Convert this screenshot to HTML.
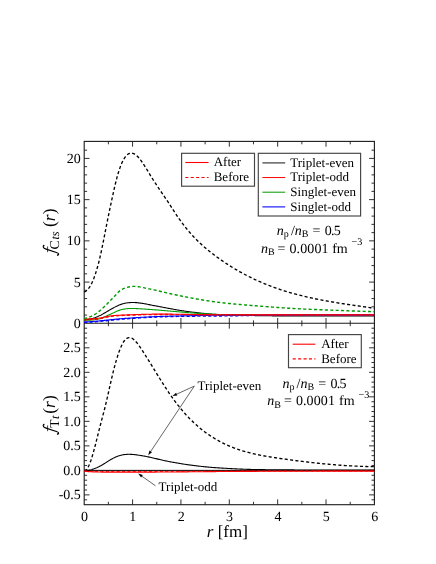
<!DOCTYPE html>
<html><head><meta charset="utf-8"><title>chart</title>
<style>html,body{margin:0;padding:0;background:#fff;}body{width:436px;height:564px;position:relative;overflow:hidden;font-family:"Liberation Serif",serif;}</style>
</head><body>
<svg width="436" height="564" viewBox="0 0 436 564" style="position:absolute;left:0;top:0;will-change:transform;opacity:0.999" text-rendering="geometricPrecision">
<rect width="436" height="564" fill="#fff"/>
<defs><clipPath id="c1"><rect x="83.60000000000001" y="141.4" width="291.4" height="181.9"/></clipPath><clipPath id="c2"><rect x="83.60000000000001" y="323.3" width="291.4" height="181.39999999999998"/></clipPath></defs>
<path d="M108.38,141.40L108.38,144.30M108.38,320.40L108.38,326.20M108.38,504.70L108.38,501.80M132.57,141.40L132.57,146.70M132.57,318.00L132.57,328.60M132.57,504.70L132.57,499.40M156.75,141.40L156.75,144.30M156.75,320.40L156.75,326.20M156.75,504.70L156.75,501.80M180.93,141.40L180.93,146.70M180.93,318.00L180.93,328.60M180.93,504.70L180.93,499.40M205.12,141.40L205.12,144.30M205.12,320.40L205.12,326.20M205.12,504.70L205.12,501.80M229.30,141.40L229.30,146.70M229.30,318.00L229.30,328.60M229.30,504.70L229.30,499.40M253.48,141.40L253.48,144.30M253.48,320.40L253.48,326.20M253.48,504.70L253.48,501.80M277.67,141.40L277.67,146.70M277.67,318.00L277.67,328.60M277.67,504.70L277.67,499.40M301.85,141.40L301.85,144.30M301.85,320.40L301.85,326.20M301.85,504.70L301.85,501.80M326.03,141.40L326.03,146.70M326.03,318.00L326.03,328.60M326.03,504.70L326.03,499.40M350.22,141.40L350.22,144.30M350.22,320.40L350.22,326.20M350.22,504.70L350.22,501.80M84.20,315.06L87.10,315.06M374.40,315.06L371.50,315.06M84.20,306.81L87.10,306.81M374.40,306.81L371.50,306.81M84.20,298.56L87.10,298.56M374.40,298.56L371.50,298.56M84.20,290.32L87.10,290.32M374.40,290.32L371.50,290.32M84.20,282.08L89.50,282.08M374.40,282.08L369.10,282.08M84.20,273.83L87.10,273.83M374.40,273.83L371.50,273.83M84.20,265.59L87.10,265.59M374.40,265.59L371.50,265.59M84.20,257.34L87.10,257.34M374.40,257.34L371.50,257.34M84.20,249.10L87.10,249.10M374.40,249.10L371.50,249.10M84.20,240.85L89.50,240.85M374.40,240.85L369.10,240.85M84.20,232.61L87.10,232.61M374.40,232.61L371.50,232.61M84.20,224.36L87.10,224.36M374.40,224.36L371.50,224.36M84.20,216.12L87.10,216.12M374.40,216.12L371.50,216.12M84.20,207.87L87.10,207.87M374.40,207.87L371.50,207.87M84.20,199.63L89.50,199.63M374.40,199.63L369.10,199.63M84.20,191.38L87.10,191.38M374.40,191.38L371.50,191.38M84.20,183.14L87.10,183.14M374.40,183.14L371.50,183.14M84.20,174.89L87.10,174.89M374.40,174.89L371.50,174.89M84.20,166.65L87.10,166.65M374.40,166.65L371.50,166.65M84.20,158.40L89.50,158.40M374.40,158.40L369.10,158.40M84.20,150.16L87.10,150.16M374.40,150.16L371.50,150.16M84.20,499.80L87.10,499.80M374.40,499.80L371.50,499.80M84.20,494.89L89.50,494.89M374.40,494.89L369.10,494.89M84.20,489.99L87.10,489.99M374.40,489.99L371.50,489.99M84.20,485.09L87.10,485.09M374.40,485.09L371.50,485.09M84.20,480.19L87.10,480.19M374.40,480.19L371.50,480.19M84.20,475.28L87.10,475.28M374.40,475.28L371.50,475.28M84.20,470.38L89.50,470.38M374.40,470.38L369.10,470.38M84.20,465.48L87.10,465.48M374.40,465.48L371.50,465.48M84.20,460.58L87.10,460.58M374.40,460.58L371.50,460.58M84.20,455.67L87.10,455.67M374.40,455.67L371.50,455.67M84.20,450.77L87.10,450.77M374.40,450.77L371.50,450.77M84.20,445.87L89.50,445.87M374.40,445.87L369.10,445.87M84.20,440.96L87.10,440.96M374.40,440.96L371.50,440.96M84.20,436.06L87.10,436.06M374.40,436.06L371.50,436.06M84.20,431.16L87.10,431.16M374.40,431.16L371.50,431.16M84.20,426.26L87.10,426.26M374.40,426.26L371.50,426.26M84.20,421.35L89.50,421.35M374.40,421.35L369.10,421.35M84.20,416.45L87.10,416.45M374.40,416.45L371.50,416.45M84.20,411.55L87.10,411.55M374.40,411.55L371.50,411.55M84.20,406.65L87.10,406.65M374.40,406.65L371.50,406.65M84.20,401.74L87.10,401.74M374.40,401.74L371.50,401.74M84.20,396.84L89.50,396.84M374.40,396.84L369.10,396.84M84.20,391.94L87.10,391.94M374.40,391.94L371.50,391.94M84.20,387.04L87.10,387.04M374.40,387.04L371.50,387.04M84.20,382.13L87.10,382.13M374.40,382.13L371.50,382.13M84.20,377.23L87.10,377.23M374.40,377.23L371.50,377.23M84.20,372.33L89.50,372.33M374.40,372.33L369.10,372.33M84.20,367.42L87.10,367.42M374.40,367.42L371.50,367.42M84.20,362.52L87.10,362.52M374.40,362.52L371.50,362.52M84.20,357.62L87.10,357.62M374.40,357.62L371.50,357.62M84.20,352.72L87.10,352.72M374.40,352.72L371.50,352.72M84.20,347.81L89.50,347.81M374.40,347.81L369.10,347.81M84.20,342.91L87.10,342.91M374.40,342.91L371.50,342.91M84.20,338.01L87.10,338.01M374.40,338.01L371.50,338.01M84.20,333.11L87.10,333.11M374.40,333.11L371.50,333.11M84.20,328.20L87.10,328.20M374.40,328.20L371.50,328.20" stroke="#1a1a1a" stroke-width="0.9" fill="none"/>
<rect x="84.2" y="141.4" width="290.20" height="363.30" fill="none" stroke="#1a1a1a" stroke-width="1.1"/>
<line x1="84.2" y1="323.3" x2="374.4" y2="323.3" stroke="#1a1a1a" stroke-width="1.1"/>
<path d="M84.20,319.60 L85.17,319.60 L86.14,319.57 L87.11,319.49 L88.08,319.38 L89.05,319.24 L90.02,319.06 L90.99,318.85 L91.96,318.61 L92.94,318.34 L93.91,318.03 L94.88,317.70 L95.85,317.34 L96.82,316.95 L97.79,316.54 L98.76,316.10 L99.73,315.63 L100.70,315.15 L101.67,314.64 L102.64,314.11 L103.61,313.57 L104.58,313.02 L105.55,312.45 L106.52,311.88 L107.49,311.30 L108.46,310.72 L109.43,310.15 L110.41,309.57 L111.38,309.00 L112.35,308.45 L113.32,307.91 L114.29,307.38 L115.26,306.87 L116.23,306.39 L117.20,305.93 L118.17,305.50 L119.14,305.09 L120.11,304.71 L121.08,304.36 L122.05,304.05 L123.02,303.76 L123.99,303.50 L124.96,303.28 L125.93,303.08 L126.91,302.92 L127.88,302.79 L128.85,302.68 L129.82,302.60 L130.79,302.54 L131.76,302.51 L132.73,302.50 L133.70,302.51 L134.67,302.54 L135.64,302.59 L136.61,302.65 L137.58,302.74 L138.55,302.84 L139.52,302.95 L140.49,303.08 L141.46,303.22 L142.43,303.37 L143.40,303.53 L144.38,303.70 L145.35,303.88 L146.32,304.07 L147.29,304.26 L148.26,304.45 L149.23,304.64 L150.20,304.84 L151.17,305.03 L152.14,305.23 L153.11,305.42 L154.08,305.60 L155.05,305.79 L156.02,305.97 L156.99,306.15 L157.96,306.33 L158.93,306.51 L159.90,306.70 L160.87,306.88 L161.85,307.06 L162.82,307.24 L163.79,307.43 L164.76,307.61 L165.73,307.80 L166.70,307.98 L167.67,308.17 L168.64,308.35 L169.61,308.54 L170.58,308.72 L171.55,308.90 L172.52,309.08 L173.49,309.26 L174.46,309.43 L175.43,309.61 L176.40,309.78 L177.37,309.95 L178.35,310.11 L179.32,310.28 L180.29,310.43 L181.26,310.59 L182.23,310.74 L183.20,310.89 L184.17,311.03 L185.14,311.17 L186.11,311.31 L187.08,311.44 L188.05,311.57 L189.02,311.70 L189.99,311.82 L190.96,311.95 L191.93,312.07 L192.90,312.19 L193.87,312.30 L194.84,312.42 L195.82,312.53 L196.79,312.64 L197.76,312.75 L198.73,312.86 L199.70,312.97 L200.67,313.07 L201.64,313.18 L202.61,313.28 L203.58,313.39 L204.55,313.49 L205.52,313.59 L206.49,313.68 L207.46,313.78 L208.43,313.87 L209.40,313.96 L210.37,314.04 L211.34,314.13 L212.32,314.20 L213.29,314.28 L214.26,314.35 L215.23,314.42 L216.20,314.48 L217.17,314.53 L218.14,314.59 L219.11,314.64 L220.08,314.68 L221.05,314.73 L222.02,314.77 L222.99,314.80 L223.96,314.84 L224.93,314.87 L225.90,314.91 L226.87,314.94 L227.84,314.97 L228.81,314.99 L229.79,315.02 L230.76,315.05 L231.73,315.08 L232.70,315.10 L233.67,315.13 L234.64,315.16 L235.61,315.18 L236.58,315.20 L237.55,315.23 L238.52,315.25 L239.49,315.28 L240.46,315.30 L241.43,315.32 L242.40,315.34 L243.37,315.36 L244.34,315.39 L245.31,315.41 L246.28,315.43 L247.26,315.45 L248.23,315.47 L249.20,315.48 L250.17,315.50 L251.14,315.52 L252.11,315.54 L253.08,315.56 L254.05,315.57 L255.02,315.59 L255.99,315.61 L256.96,315.62 L257.93,315.64 L258.90,315.65 L259.87,315.67 L260.84,315.68 L261.81,315.70 L262.78,315.71 L263.76,315.73 L264.73,315.74 L265.70,315.75 L266.67,315.76 L267.64,315.78 L268.61,315.79 L269.58,315.80 L270.55,315.81 L271.52,315.82 L272.49,315.83 L273.46,315.84 L274.43,315.85 L275.40,315.86 L276.37,315.87 L277.34,315.88 L278.31,315.89 L279.28,315.89 L280.25,315.90 L281.23,315.91 L282.20,315.92 L283.17,315.92 L284.14,315.93 L285.11,315.94 L286.08,315.94 L287.05,315.95 L288.02,315.95 L288.99,315.96 L289.96,315.96 L290.93,315.97 L291.90,315.97 L292.87,315.97 L293.84,315.98 L294.81,315.98 L295.78,315.98 L296.75,315.99 L297.73,315.99 L298.70,315.99 L299.67,315.99 L300.64,316.00 L301.61,316.00 L302.58,316.00 L303.55,316.00 L304.52,316.00 L305.49,316.00 L306.46,316.00 L307.43,316.00 L308.40,316.00 L309.37,316.00 L310.34,316.00 L311.31,316.00 L312.28,316.00 L313.25,316.00 L314.22,316.00 L315.20,316.00 L316.17,316.00 L317.14,316.00 L318.11,316.00 L319.08,316.00 L320.05,316.00 L321.02,316.00 L321.99,316.00 L322.96,316.00 L323.93,316.00 L324.90,315.99 L325.87,315.99 L326.84,315.99 L327.81,315.99 L328.78,315.99 L329.75,315.99 L330.72,315.99 L331.69,315.98 L332.67,315.98 L333.64,315.98 L334.61,315.98 L335.58,315.98 L336.55,315.98 L337.52,315.98 L338.49,315.97 L339.46,315.97 L340.43,315.97 L341.40,315.97 L342.37,315.97 L343.34,315.97 L344.31,315.97 L345.28,315.97 L346.25,315.96 L347.22,315.96 L348.19,315.96 L349.17,315.96 L350.14,315.96 L351.11,315.96 L352.08,315.96 L353.05,315.96 L354.02,315.96 L354.99,315.96 L355.96,315.96 L356.93,315.96 L357.90,315.96 L358.87,315.96 L359.84,315.96 L360.81,315.96 L361.78,315.97 L362.75,315.97 L363.72,315.97 L364.69,315.97 L365.66,315.97 L366.64,315.97 L367.61,315.98 L368.58,315.98 L369.55,315.98 L370.52,315.99 L371.49,315.99 L372.46,315.99 L373.43,316.00 L374.40,316.00" fill="none" stroke="#000" stroke-width="1.1" clip-path="url(#c1)"/>
<path d="M84.20,320.40 L85.17,320.35 L86.14,320.30 L87.11,320.26 L88.08,320.22 L89.05,320.17 L90.02,320.13 L90.99,320.07 L91.96,320.00 L92.94,319.92 L93.91,319.82 L94.88,319.70 L95.85,319.56 L96.82,319.39 L97.79,319.19 L98.76,318.95 L99.73,318.68 L100.70,318.37 L101.67,318.03 L102.64,317.65 L103.61,317.25 L104.58,316.84 L105.55,316.40 L106.52,315.97 L107.49,315.53 L108.46,315.09 L109.43,314.66 L110.41,314.23 L111.38,313.79 L112.35,313.34 L113.32,312.87 L114.29,312.40 L115.26,311.94 L116.23,311.50 L117.20,311.09 L118.17,310.71 L119.14,310.37 L120.11,310.05 L121.08,309.77 L122.05,309.51 L123.02,309.29 L123.99,309.10 L124.96,308.94 L125.93,308.81 L126.91,308.71 L127.88,308.63 L128.85,308.57 L129.82,308.53 L130.79,308.51 L131.76,308.50 L132.73,308.50 L133.70,308.52 L134.67,308.54 L135.64,308.57 L136.61,308.60 L137.58,308.65 L138.55,308.70 L139.52,308.75 L140.49,308.81 L141.46,308.87 L142.43,308.93 L143.40,308.99 L144.38,309.06 L145.35,309.12 L146.32,309.19 L147.29,309.26 L148.26,309.33 L149.23,309.40 L150.20,309.47 L151.17,309.54 L152.14,309.61 L153.11,309.68 L154.08,309.76 L155.05,309.83 L156.02,309.91 L156.99,309.98 L157.96,310.06 L158.93,310.13 L159.90,310.21 L160.87,310.29 L161.85,310.37 L162.82,310.45 L163.79,310.53 L164.76,310.61 L165.73,310.69 L166.70,310.78 L167.67,310.86 L168.64,310.95 L169.61,311.03 L170.58,311.11 L171.55,311.20 L172.52,311.28 L173.49,311.37 L174.46,311.45 L175.43,311.54 L176.40,311.63 L177.37,311.71 L178.35,311.80 L179.32,311.88 L180.29,311.96 L181.26,312.05 L182.23,312.13 L183.20,312.21 L184.17,312.30 L185.14,312.38 L186.11,312.46 L187.08,312.54 L188.05,312.62 L189.02,312.70 L189.99,312.77 L190.96,312.85 L191.93,312.93 L192.90,313.00 L193.87,313.07 L194.84,313.14 L195.82,313.21 L196.79,313.28 L197.76,313.35 L198.73,313.42 L199.70,313.48 L200.67,313.54 L201.64,313.60 L202.61,313.66 L203.58,313.72 L204.55,313.78 L205.52,313.83 L206.49,313.88 L207.46,313.94 L208.43,313.99 L209.40,314.04 L210.37,314.08 L211.34,314.13 L212.32,314.18 L213.29,314.22 L214.26,314.27 L215.23,314.31 L216.20,314.35 L217.17,314.39 L218.14,314.43 L219.11,314.47 L220.08,314.51 L221.05,314.55 L222.02,314.58 L222.99,314.62 L223.96,314.65 L224.93,314.68 L225.90,314.71 L226.87,314.74 L227.84,314.77 L228.81,314.80 L229.79,314.82 L230.76,314.84 L231.73,314.86 L232.70,314.88 L233.67,314.90 L234.64,314.91 L235.61,314.93 L236.58,314.94 L237.55,314.95 L238.52,314.96 L239.49,314.97 L240.46,314.98 L241.43,314.99 L242.40,315.00 L243.37,315.00 L244.34,315.01 L245.31,315.01 L246.28,315.01 L247.26,315.01 L248.23,315.02 L249.20,315.02 L250.17,315.02 L251.14,315.02 L252.11,315.02 L253.08,315.01 L254.05,315.01 L255.02,315.01 L255.99,315.01 L256.96,315.01 L257.93,315.00 L258.90,315.00 L259.87,315.00 L260.84,315.00 L261.81,315.00 L262.78,314.99 L263.76,314.99 L264.73,314.99 L265.70,314.99 L266.67,314.99 L267.64,314.98 L268.61,314.98 L269.58,314.98 L270.55,314.98 L271.52,314.98 L272.49,314.98 L273.46,314.97 L274.43,314.97 L275.40,314.97 L276.37,314.97 L277.34,314.97 L278.31,314.97 L279.28,314.97 L280.25,314.97 L281.23,314.96 L282.20,314.96 L283.17,314.96 L284.14,314.96 L285.11,314.96 L286.08,314.96 L287.05,314.96 L288.02,314.96 L288.99,314.96 L289.96,314.96 L290.93,314.96 L291.90,314.95 L292.87,314.95 L293.84,314.95 L294.81,314.95 L295.78,314.95 L296.75,314.95 L297.73,314.95 L298.70,314.95 L299.67,314.95 L300.64,314.95 L301.61,314.95 L302.58,314.95 L303.55,314.95 L304.52,314.95 L305.49,314.95 L306.46,314.95 L307.43,314.95 L308.40,314.95 L309.37,314.95 L310.34,314.95 L311.31,314.95 L312.28,314.95 L313.25,314.95 L314.22,314.94 L315.20,314.94 L316.17,314.94 L317.14,314.94 L318.11,314.94 L319.08,314.94 L320.05,314.94 L321.02,314.94 L321.99,314.94 L322.96,314.94 L323.93,314.94 L324.90,314.94 L325.87,314.94 L326.84,314.94 L327.81,314.94 L328.78,314.94 L329.75,314.94 L330.72,314.94 L331.69,314.94 L332.67,314.94 L333.64,314.94 L334.61,314.94 L335.58,314.94 L336.55,314.94 L337.52,314.94 L338.49,314.94 L339.46,314.94 L340.43,314.94 L341.40,314.94 L342.37,314.94 L343.34,314.94 L344.31,314.93 L345.28,314.93 L346.25,314.93 L347.22,314.93 L348.19,314.93 L349.17,314.93 L350.14,314.93 L351.11,314.93 L352.08,314.93 L353.05,314.93 L354.02,314.93 L354.99,314.93 L355.96,314.93 L356.93,314.92 L357.90,314.92 L358.87,314.92 L359.84,314.92 L360.81,314.92 L361.78,314.92 L362.75,314.92 L363.72,314.92 L364.69,314.92 L365.66,314.91 L366.64,314.91 L367.61,314.91 L368.58,314.91 L369.55,314.91 L370.52,314.91 L371.49,314.91 L372.46,314.90 L373.43,314.90 L374.40,314.90" fill="none" stroke="#009a00" stroke-width="1.1" clip-path="url(#c1)"/>
<path d="M84.20,322.40 L85.17,322.37 L86.14,322.33 L87.11,322.29 L88.08,322.24 L89.05,322.19 L90.02,322.14 L90.99,322.08 L91.96,322.02 L92.94,321.95 L93.91,321.88 L94.88,321.81 L95.85,321.73 L96.82,321.66 L97.79,321.57 L98.76,321.49 L99.73,321.40 L100.70,321.32 L101.67,321.22 L102.64,321.13 L103.61,321.04 L104.58,320.94 L105.55,320.85 L106.52,320.75 L107.49,320.65 L108.46,320.55 L109.43,320.45 L110.41,320.35 L111.38,320.25 L112.35,320.15 L113.32,320.05 L114.29,319.96 L115.26,319.86 L116.23,319.76 L117.20,319.67 L118.17,319.57 L119.14,319.48 L120.11,319.39 L121.08,319.30 L122.05,319.22 L123.02,319.13 L123.99,319.05 L124.96,318.97 L125.93,318.89 L126.91,318.81 L127.88,318.74 L128.85,318.66 L129.82,318.59 L130.79,318.52 L131.76,318.45 L132.73,318.38 L133.70,318.31 L134.67,318.24 L135.64,318.17 L136.61,318.11 L137.58,318.05 L138.55,317.98 L139.52,317.92 L140.49,317.86 L141.46,317.80 L142.43,317.75 L143.40,317.69 L144.38,317.63 L145.35,317.58 L146.32,317.53 L147.29,317.48 L148.26,317.43 L149.23,317.38 L150.20,317.34 L151.17,317.29 L152.14,317.25 L153.11,317.21 L154.08,317.16 L155.05,317.12 L156.02,317.08 L156.99,317.05 L157.96,317.01 L158.93,316.97 L159.90,316.94 L160.87,316.90 L161.85,316.87 L162.82,316.84 L163.79,316.81 L164.76,316.78 L165.73,316.75 L166.70,316.72 L167.67,316.69 L168.64,316.66 L169.61,316.64 L170.58,316.61 L171.55,316.59 L172.52,316.56 L173.49,316.54 L174.46,316.52 L175.43,316.50 L176.40,316.48 L177.37,316.46 L178.35,316.44 L179.32,316.42 L180.29,316.41 L181.26,316.39 L182.23,316.38 L183.20,316.36 L184.17,316.35 L185.14,316.34 L186.11,316.32 L187.08,316.31 L188.05,316.30 L189.02,316.29 L189.99,316.28 L190.96,316.27 L191.93,316.26 L192.90,316.26 L193.87,316.25 L194.84,316.24 L195.82,316.23 L196.79,316.22 L197.76,316.22 L198.73,316.21 L199.70,316.20 L200.67,316.20 L201.64,316.19 L202.61,316.18 L203.58,316.17 L204.55,316.17 L205.52,316.16 L206.49,316.15 L207.46,316.14 L208.43,316.14 L209.40,316.13 L210.37,316.12 L211.34,316.11 L212.32,316.10 L213.29,316.09 L214.26,316.08 L215.23,316.07 L216.20,316.06 L217.17,316.05 L218.14,316.04 L219.11,316.03 L220.08,316.02 L221.05,316.01 L222.02,316.00 L222.99,315.99 L223.96,315.97 L224.93,315.96 L225.90,315.95 L226.87,315.93 L227.84,315.92 L228.81,315.90 L229.79,315.89 L230.76,315.87 L231.73,315.85 L232.70,315.84 L233.67,315.82 L234.64,315.80 L235.61,315.78 L236.58,315.76 L237.55,315.74 L238.52,315.73 L239.49,315.71 L240.46,315.69 L241.43,315.67 L242.40,315.65 L243.37,315.63 L244.34,315.61 L245.31,315.59 L246.28,315.57 L247.26,315.55 L248.23,315.53 L249.20,315.52 L250.17,315.50 L251.14,315.48 L252.11,315.46 L253.08,315.44 L254.05,315.43 L255.02,315.41 L255.99,315.40 L256.96,315.38 L257.93,315.36 L258.90,315.35 L259.87,315.33 L260.84,315.32 L261.81,315.31 L262.78,315.29 L263.76,315.28 L264.73,315.27 L265.70,315.25 L266.67,315.24 L267.64,315.23 L268.61,315.22 L269.58,315.20 L270.55,315.19 L271.52,315.18 L272.49,315.17 L273.46,315.16 L274.43,315.15 L275.40,315.14 L276.37,315.13 L277.34,315.12 L278.31,315.11 L279.28,315.11 L280.25,315.10 L281.23,315.09 L282.20,315.08 L283.17,315.07 L284.14,315.07 L285.11,315.06 L286.08,315.05 L287.05,315.05 L288.02,315.04 L288.99,315.04 L289.96,315.03 L290.93,315.03 L291.90,315.02 L292.87,315.02 L293.84,315.01 L294.81,315.01 L295.78,315.00 L296.75,315.00 L297.73,314.99 L298.70,314.99 L299.67,314.99 L300.64,314.98 L301.61,314.98 L302.58,314.98 L303.55,314.97 L304.52,314.97 L305.49,314.97 L306.46,314.97 L307.43,314.97 L308.40,314.96 L309.37,314.96 L310.34,314.96 L311.31,314.96 L312.28,314.96 L313.25,314.96 L314.22,314.95 L315.20,314.95 L316.17,314.95 L317.14,314.95 L318.11,314.95 L319.08,314.95 L320.05,314.95 L321.02,314.95 L321.99,314.95 L322.96,314.95 L323.93,314.95 L324.90,314.95 L325.87,314.95 L326.84,314.95 L327.81,314.95 L328.78,314.95 L329.75,314.95 L330.72,314.95 L331.69,314.95 L332.67,314.95 L333.64,314.95 L334.61,314.95 L335.58,314.95 L336.55,314.95 L337.52,314.95 L338.49,314.95 L339.46,314.95 L340.43,314.95 L341.40,314.95 L342.37,314.95 L343.34,314.95 L344.31,314.95 L345.28,314.95 L346.25,314.95 L347.22,314.95 L348.19,314.95 L349.17,314.95 L350.14,314.95 L351.11,314.95 L352.08,314.95 L353.05,314.95 L354.02,314.95 L354.99,314.94 L355.96,314.94 L356.93,314.94 L357.90,314.94 L358.87,314.94 L359.84,314.94 L360.81,314.94 L361.78,314.94 L362.75,314.93 L363.72,314.93 L364.69,314.93 L365.66,314.93 L366.64,314.93 L367.61,314.92 L368.58,314.92 L369.55,314.92 L370.52,314.91 L371.49,314.91 L372.46,314.91 L373.43,314.90 L374.40,314.90" fill="none" stroke="#0000ff" stroke-width="1.3" stroke-dasharray="3.1 2.3" clip-path="url(#c1)"/>
<path d="M84.20,322.00 L85.17,321.96 L86.14,321.91 L87.11,321.86 L88.08,321.81 L89.05,321.75 L90.02,321.69 L90.99,321.62 L91.96,321.55 L92.94,321.47 L93.91,321.39 L94.88,321.31 L95.85,321.23 L96.82,321.14 L97.79,321.05 L98.76,320.96 L99.73,320.86 L100.70,320.76 L101.67,320.67 L102.64,320.57 L103.61,320.47 L104.58,320.36 L105.55,320.26 L106.52,320.16 L107.49,320.05 L108.46,319.95 L109.43,319.85 L110.41,319.74 L111.38,319.64 L112.35,319.54 L113.32,319.44 L114.29,319.34 L115.26,319.24 L116.23,319.15 L117.20,319.05 L118.17,318.96 L119.14,318.88 L120.11,318.79 L121.08,318.71 L122.05,318.63 L123.02,318.55 L123.99,318.48 L124.96,318.41 L125.93,318.34 L126.91,318.27 L127.88,318.20 L128.85,318.14 L129.82,318.07 L130.79,318.01 L131.76,317.94 L132.73,317.88 L133.70,317.81 L134.67,317.75 L135.64,317.68 L136.61,317.62 L137.58,317.56 L138.55,317.49 L139.52,317.43 L140.49,317.37 L141.46,317.31 L142.43,317.25 L143.40,317.19 L144.38,317.14 L145.35,317.08 L146.32,317.03 L147.29,316.98 L148.26,316.93 L149.23,316.88 L150.20,316.83 L151.17,316.78 L152.14,316.74 L153.11,316.70 L154.08,316.66 L155.05,316.62 L156.02,316.58 L156.99,316.54 L157.96,316.51 L158.93,316.47 L159.90,316.44 L160.87,316.40 L161.85,316.37 L162.82,316.34 L163.79,316.31 L164.76,316.28 L165.73,316.26 L166.70,316.23 L167.67,316.20 L168.64,316.18 L169.61,316.15 L170.58,316.13 L171.55,316.11 L172.52,316.08 L173.49,316.06 L174.46,316.04 L175.43,316.02 L176.40,315.99 L177.37,315.97 L178.35,315.95 L179.32,315.93 L180.29,315.91 L181.26,315.89 L182.23,315.87 L183.20,315.85 L184.17,315.82 L185.14,315.80 L186.11,315.78 L187.08,315.76 L188.05,315.74 L189.02,315.72 L189.99,315.70 L190.96,315.68 L191.93,315.66 L192.90,315.64 L193.87,315.62 L194.84,315.60 L195.82,315.58 L196.79,315.56 L197.76,315.54 L198.73,315.52 L199.70,315.51 L200.67,315.49 L201.64,315.47 L202.61,315.45 L203.58,315.44 L204.55,315.42 L205.52,315.40 L206.49,315.39 L207.46,315.37 L208.43,315.35 L209.40,315.34 L210.37,315.32 L211.34,315.31 L212.32,315.30 L213.29,315.28 L214.26,315.27 L215.23,315.25 L216.20,315.24 L217.17,315.23 L218.14,315.22 L219.11,315.20 L220.08,315.19 L221.05,315.18 L222.02,315.17 L222.99,315.16 L223.96,315.15 L224.93,315.14 L225.90,315.13 L226.87,315.12 L227.84,315.11 L228.81,315.10 L229.79,315.09 L230.76,315.09 L231.73,315.08 L232.70,315.07 L233.67,315.06 L234.64,315.06 L235.61,315.05 L236.58,315.04 L237.55,315.04 L238.52,315.03 L239.49,315.03 L240.46,315.02 L241.43,315.01 L242.40,315.01 L243.37,315.01 L244.34,315.00 L245.31,315.00 L246.28,314.99 L247.26,314.99 L248.23,314.98 L249.20,314.98 L250.17,314.98 L251.14,314.97 L252.11,314.97 L253.08,314.97 L254.05,314.97 L255.02,314.96 L255.99,314.96 L256.96,314.96 L257.93,314.95 L258.90,314.95 L259.87,314.95 L260.84,314.95 L261.81,314.95 L262.78,314.94 L263.76,314.94 L264.73,314.94 L265.70,314.94 L266.67,314.94 L267.64,314.93 L268.61,314.93 L269.58,314.93 L270.55,314.93 L271.52,314.93 L272.49,314.93 L273.46,314.92 L274.43,314.92 L275.40,314.92 L276.37,314.92 L277.34,314.92 L278.31,314.92 L279.28,314.92 L280.25,314.91 L281.23,314.91 L282.20,314.91 L283.17,314.91 L284.14,314.91 L285.11,314.91 L286.08,314.91 L287.05,314.91 L288.02,314.91 L288.99,314.91 L289.96,314.91 L290.93,314.90 L291.90,314.90 L292.87,314.90 L293.84,314.90 L294.81,314.90 L295.78,314.90 L296.75,314.90 L297.73,314.90 L298.70,314.90 L299.67,314.90 L300.64,314.90 L301.61,314.90 L302.58,314.90 L303.55,314.90 L304.52,314.90 L305.49,314.90 L306.46,314.90 L307.43,314.90 L308.40,314.90 L309.37,314.90 L310.34,314.90 L311.31,314.90 L312.28,314.90 L313.25,314.90 L314.22,314.90 L315.20,314.90 L316.17,314.90 L317.14,314.90 L318.11,314.90 L319.08,314.90 L320.05,314.90 L321.02,314.90 L321.99,314.90 L322.96,314.90 L323.93,314.90 L324.90,314.90 L325.87,314.90 L326.84,314.90 L327.81,314.90 L328.78,314.90 L329.75,314.90 L330.72,314.90 L331.69,314.90 L332.67,314.90 L333.64,314.90 L334.61,314.90 L335.58,314.90 L336.55,314.90 L337.52,314.90 L338.49,314.90 L339.46,314.90 L340.43,314.90 L341.40,314.90 L342.37,314.90 L343.34,314.90 L344.31,314.90 L345.28,314.90 L346.25,314.90 L347.22,314.90 L348.19,314.90 L349.17,314.90 L350.14,314.90 L351.11,314.90 L352.08,314.90 L353.05,314.90 L354.02,314.90 L354.99,314.90 L355.96,314.90 L356.93,314.90 L357.90,314.90 L358.87,314.90 L359.84,314.90 L360.81,314.90 L361.78,314.90 L362.75,314.90 L363.72,314.90 L364.69,314.90 L365.66,314.90 L366.64,314.90 L367.61,314.90 L368.58,314.90 L369.55,314.90 L370.52,314.90 L371.49,314.90 L372.46,314.90 L373.43,314.90 L374.40,314.90" fill="none" stroke="#0000ff" stroke-width="1.1" clip-path="url(#c1)"/>
<path d="M84.20,319.90 L85.17,319.87 L86.14,319.83 L87.11,319.80 L88.08,319.77 L89.05,319.74 L90.02,319.70 L90.99,319.65 L91.96,319.60 L92.94,319.54 L93.91,319.47 L94.88,319.39 L95.85,319.29 L96.82,319.18 L97.79,319.06 L98.76,318.91 L99.73,318.75 L100.70,318.56 L101.67,318.36 L102.64,318.14 L103.61,317.92 L104.58,317.69 L105.55,317.45 L106.52,317.23 L107.49,317.00 L108.46,316.79 L109.43,316.60 L110.41,316.43 L111.38,316.28 L112.35,316.15 L113.32,316.04 L114.29,315.95 L115.26,315.87 L116.23,315.80 L117.20,315.74 L118.17,315.69 L119.14,315.64 L120.11,315.59 L121.08,315.55 L122.05,315.51 L123.02,315.47 L123.99,315.43 L124.96,315.39 L125.93,315.35 L126.91,315.31 L127.88,315.27 L128.85,315.23 L129.82,315.20 L130.79,315.16 L131.76,315.12 L132.73,315.09 L133.70,315.05 L134.67,315.02 L135.64,314.99 L136.61,314.95 L137.58,314.92 L138.55,314.89 L139.52,314.86 L140.49,314.83 L141.46,314.80 L142.43,314.77 L143.40,314.75 L144.38,314.72 L145.35,314.70 L146.32,314.67 L147.29,314.65 L148.26,314.63 L149.23,314.61 L150.20,314.60 L151.17,314.58 L152.14,314.57 L153.11,314.55 L154.08,314.54 L155.05,314.53 L156.02,314.53 L156.99,314.52 L157.96,314.51 L158.93,314.51 L159.90,314.50 L160.87,314.50 L161.85,314.50 L162.82,314.50 L163.79,314.50 L164.76,314.50 L165.73,314.50 L166.70,314.50 L167.67,314.50 L168.64,314.51 L169.61,314.51 L170.58,314.52 L171.55,314.52 L172.52,314.53 L173.49,314.54 L174.46,314.54 L175.43,314.55 L176.40,314.56 L177.37,314.57 L178.35,314.58 L179.32,314.59 L180.29,314.60 L181.26,314.61 L182.23,314.62 L183.20,314.63 L184.17,314.64 L185.14,314.65 L186.11,314.66 L187.08,314.67 L188.05,314.68 L189.02,314.69 L189.99,314.70 L190.96,314.71 L191.93,314.72 L192.90,314.73 L193.87,314.74 L194.84,314.75 L195.82,314.76 L196.79,314.77 L197.76,314.78 L198.73,314.79 L199.70,314.80 L200.67,314.81 L201.64,314.81 L202.61,314.82 L203.58,314.83 L204.55,314.83 L205.52,314.84 L206.49,314.84 L207.46,314.85 L208.43,314.85 L209.40,314.86 L210.37,314.86 L211.34,314.87 L212.32,314.87 L213.29,314.87 L214.26,314.88 L215.23,314.88 L216.20,314.88 L217.17,314.88 L218.14,314.89 L219.11,314.89 L220.08,314.89 L221.05,314.89 L222.02,314.89 L222.99,314.89 L223.96,314.90 L224.93,314.90 L225.90,314.90 L226.87,314.90 L227.84,314.90 L228.81,314.90 L229.79,314.90 L230.76,314.90 L231.73,314.90 L232.70,314.90 L233.67,314.90 L234.64,314.90 L235.61,314.90 L236.58,314.91 L237.55,314.91 L238.52,314.91 L239.49,314.91 L240.46,314.91 L241.43,314.91 L242.40,314.91 L243.37,314.91 L244.34,314.91 L245.31,314.91 L246.28,314.91 L247.26,314.91 L248.23,314.91 L249.20,314.91 L250.17,314.91 L251.14,314.91 L252.11,314.91 L253.08,314.91 L254.05,314.91 L255.02,314.91 L255.99,314.91 L256.96,314.91 L257.93,314.91 L258.90,314.91 L259.87,314.91 L260.84,314.91 L261.81,314.91 L262.78,314.91 L263.76,314.91 L264.73,314.91 L265.70,314.91 L266.67,314.91 L267.64,314.91 L268.61,314.91 L269.58,314.91 L270.55,314.91 L271.52,314.91 L272.49,314.91 L273.46,314.91 L274.43,314.91 L275.40,314.91 L276.37,314.91 L277.34,314.91 L278.31,314.91 L279.28,314.91 L280.25,314.91 L281.23,314.91 L282.20,314.91 L283.17,314.91 L284.14,314.91 L285.11,314.91 L286.08,314.91 L287.05,314.91 L288.02,314.90 L288.99,314.90 L289.96,314.90 L290.93,314.90 L291.90,314.90 L292.87,314.90 L293.84,314.90 L294.81,314.90 L295.78,314.90 L296.75,314.90 L297.73,314.90 L298.70,314.90 L299.67,314.90 L300.64,314.90 L301.61,314.90 L302.58,314.90 L303.55,314.90 L304.52,314.90 L305.49,314.90 L306.46,314.90 L307.43,314.90 L308.40,314.90 L309.37,314.90 L310.34,314.90 L311.31,314.90 L312.28,314.89 L313.25,314.89 L314.22,314.89 L315.20,314.89 L316.17,314.89 L317.14,314.89 L318.11,314.89 L319.08,314.89 L320.05,314.89 L321.02,314.89 L321.99,314.89 L322.96,314.89 L323.93,314.89 L324.90,314.89 L325.87,314.89 L326.84,314.89 L327.81,314.89 L328.78,314.89 L329.75,314.89 L330.72,314.89 L331.69,314.89 L332.67,314.89 L333.64,314.89 L334.61,314.89 L335.58,314.89 L336.55,314.89 L337.52,314.89 L338.49,314.89 L339.46,314.89 L340.43,314.89 L341.40,314.89 L342.37,314.89 L343.34,314.89 L344.31,314.89 L345.28,314.89 L346.25,314.89 L347.22,314.89 L348.19,314.89 L349.17,314.89 L350.14,314.89 L351.11,314.89 L352.08,314.89 L353.05,314.89 L354.02,314.89 L354.99,314.89 L355.96,314.89 L356.93,314.89 L357.90,314.89 L358.87,314.89 L359.84,314.89 L360.81,314.89 L361.78,314.89 L362.75,314.89 L363.72,314.89 L364.69,314.89 L365.66,314.89 L366.64,314.89 L367.61,314.89 L368.58,314.90 L369.55,314.90 L370.52,314.90 L371.49,314.90 L372.46,314.90 L373.43,314.90 L374.40,314.90" fill="none" stroke="#ff0000" stroke-width="1.3" stroke-dasharray="3.1 2.3" clip-path="url(#c1)"/>
<path d="M84.20,319.00 L85.17,318.98 L86.14,318.97 L87.11,318.95 L88.08,318.93 L89.05,318.90 L90.02,318.88 L90.99,318.84 L91.96,318.80 L92.94,318.75 L93.91,318.69 L94.88,318.62 L95.85,318.54 L96.82,318.44 L97.79,318.32 L98.76,318.19 L99.73,318.04 L100.70,317.88 L101.67,317.69 L102.64,317.49 L103.61,317.29 L104.58,317.08 L105.55,316.87 L106.52,316.66 L107.49,316.46 L108.46,316.27 L109.43,316.09 L110.41,315.94 L111.38,315.80 L112.35,315.69 L113.32,315.59 L114.29,315.51 L115.26,315.44 L116.23,315.38 L117.20,315.32 L118.17,315.28 L119.14,315.24 L120.11,315.20 L121.08,315.16 L122.05,315.11 L123.02,315.07 L123.99,315.03 L124.96,314.99 L125.93,314.95 L126.91,314.91 L127.88,314.88 L128.85,314.84 L129.82,314.80 L130.79,314.76 L131.76,314.72 L132.73,314.69 L133.70,314.65 L134.67,314.62 L135.64,314.58 L136.61,314.55 L137.58,314.52 L138.55,314.49 L139.52,314.46 L140.49,314.43 L141.46,314.40 L142.43,314.37 L143.40,314.35 L144.38,314.32 L145.35,314.30 L146.32,314.27 L147.29,314.25 L148.26,314.23 L149.23,314.21 L150.20,314.20 L151.17,314.18 L152.14,314.17 L153.11,314.15 L154.08,314.14 L155.05,314.13 L156.02,314.12 L156.99,314.12 L157.96,314.11 L158.93,314.10 L159.90,314.10 L160.87,314.10 L161.85,314.10 L162.82,314.10 L163.79,314.10 L164.76,314.11 L165.73,314.11 L166.70,314.12 L167.67,314.13 L168.64,314.14 L169.61,314.14 L170.58,314.16 L171.55,314.17 L172.52,314.18 L173.49,314.19 L174.46,314.20 L175.43,314.22 L176.40,314.23 L177.37,314.25 L178.35,314.26 L179.32,314.28 L180.29,314.29 L181.26,314.31 L182.23,314.33 L183.20,314.34 L184.17,314.36 L185.14,314.37 L186.11,314.39 L187.08,314.41 L188.05,314.42 L189.02,314.44 L189.99,314.45 L190.96,314.47 L191.93,314.48 L192.90,314.50 L193.87,314.51 L194.84,314.53 L195.82,314.54 L196.79,314.56 L197.76,314.57 L198.73,314.58 L199.70,314.60 L200.67,314.61 L201.64,314.62 L202.61,314.63 L203.58,314.64 L204.55,314.65 L205.52,314.66 L206.49,314.67 L207.46,314.68 L208.43,314.69 L209.40,314.70 L210.37,314.70 L211.34,314.71 L212.32,314.72 L213.29,314.72 L214.26,314.73 L215.23,314.74 L216.20,314.74 L217.17,314.75 L218.14,314.75 L219.11,314.76 L220.08,314.76 L221.05,314.77 L222.02,314.77 L222.99,314.78 L223.96,314.78 L224.93,314.78 L225.90,314.79 L226.87,314.79 L227.84,314.80 L228.81,314.80 L229.79,314.80 L230.76,314.81 L231.73,314.81 L232.70,314.81 L233.67,314.82 L234.64,314.82 L235.61,314.82 L236.58,314.82 L237.55,314.83 L238.52,314.83 L239.49,314.83 L240.46,314.84 L241.43,314.84 L242.40,314.84 L243.37,314.84 L244.34,314.85 L245.31,314.85 L246.28,314.85 L247.26,314.85 L248.23,314.85 L249.20,314.86 L250.17,314.86 L251.14,314.86 L252.11,314.86 L253.08,314.86 L254.05,314.87 L255.02,314.87 L255.99,314.87 L256.96,314.87 L257.93,314.87 L258.90,314.87 L259.87,314.87 L260.84,314.88 L261.81,314.88 L262.78,314.88 L263.76,314.88 L264.73,314.88 L265.70,314.88 L266.67,314.88 L267.64,314.88 L268.61,314.89 L269.58,314.89 L270.55,314.89 L271.52,314.89 L272.49,314.89 L273.46,314.89 L274.43,314.89 L275.40,314.89 L276.37,314.89 L277.34,314.89 L278.31,314.89 L279.28,314.89 L280.25,314.90 L281.23,314.90 L282.20,314.90 L283.17,314.90 L284.14,314.90 L285.11,314.90 L286.08,314.90 L287.05,314.90 L288.02,314.90 L288.99,314.90 L289.96,314.90 L290.93,314.90 L291.90,314.90 L292.87,314.90 L293.84,314.90 L294.81,314.90 L295.78,314.90 L296.75,314.90 L297.73,314.90 L298.70,314.90 L299.67,314.90 L300.64,314.90 L301.61,314.90 L302.58,314.90 L303.55,314.90 L304.52,314.90 L305.49,314.90 L306.46,314.90 L307.43,314.90 L308.40,314.90 L309.37,314.90 L310.34,314.90 L311.31,314.90 L312.28,314.90 L313.25,314.90 L314.22,314.90 L315.20,314.90 L316.17,314.90 L317.14,314.90 L318.11,314.90 L319.08,314.90 L320.05,314.90 L321.02,314.90 L321.99,314.90 L322.96,314.90 L323.93,314.90 L324.90,314.90 L325.87,314.90 L326.84,314.90 L327.81,314.90 L328.78,314.89 L329.75,314.89 L330.72,314.89 L331.69,314.89 L332.67,314.89 L333.64,314.89 L334.61,314.89 L335.58,314.89 L336.55,314.89 L337.52,314.89 L338.49,314.89 L339.46,314.89 L340.43,314.89 L341.40,314.89 L342.37,314.89 L343.34,314.89 L344.31,314.89 L345.28,314.89 L346.25,314.89 L347.22,314.89 L348.19,314.89 L349.17,314.89 L350.14,314.89 L351.11,314.89 L352.08,314.89 L353.05,314.89 L354.02,314.89 L354.99,314.89 L355.96,314.89 L356.93,314.89 L357.90,314.89 L358.87,314.89 L359.84,314.89 L360.81,314.89 L361.78,314.89 L362.75,314.89 L363.72,314.89 L364.69,314.89 L365.66,314.89 L366.64,314.90 L367.61,314.90 L368.58,314.90 L369.55,314.90 L370.52,314.90 L371.49,314.90 L372.46,314.90 L373.43,314.90 L374.40,314.90" fill="none" stroke="#ff0000" stroke-width="1.1" clip-path="url(#c1)"/>
<path d="M84.20,318.90 L85.17,318.52 L86.14,318.16 L87.11,317.81 L88.08,317.47 L89.05,317.12 L90.02,316.76 L90.99,316.38 L91.96,315.97 L92.94,315.52 L93.91,315.00 L94.88,314.39 L95.85,313.72 L96.82,313.01 L97.79,312.30 L98.76,311.59 L99.73,310.84 L100.70,310.03 L101.67,309.16 L102.64,308.26 L103.61,307.35 L104.58,306.41 L105.55,305.45 L106.52,304.45 L107.49,303.44 L108.46,302.44 L109.43,301.46 L110.41,300.49 L111.38,299.52 L112.35,298.55 L113.32,297.55 L114.29,296.54 L115.26,295.49 L116.23,294.42 L117.20,293.34 L118.17,292.31 L119.14,291.38 L120.11,290.59 L121.08,289.91 L122.05,289.33 L123.02,288.84 L123.99,288.40 L124.96,288.03 L125.93,287.70 L126.91,287.41 L127.88,287.16 L128.85,286.94 L129.82,286.75 L130.79,286.60 L131.76,286.49 L132.73,286.42 L133.70,286.39 L134.67,286.40 L135.64,286.45 L136.61,286.54 L137.58,286.65 L138.55,286.78 L139.52,286.93 L140.49,287.10 L141.46,287.28 L142.43,287.47 L143.40,287.67 L144.38,287.87 L145.35,288.08 L146.32,288.29 L147.29,288.49 L148.26,288.69 L149.23,288.88 L150.20,289.07 L151.17,289.26 L152.14,289.44 L153.11,289.64 L154.08,289.85 L155.05,290.07 L156.02,290.30 L156.99,290.53 L157.96,290.77 L158.93,291.01 L159.90,291.25 L160.87,291.48 L161.85,291.72 L162.82,291.95 L163.79,292.18 L164.76,292.41 L165.73,292.63 L166.70,292.86 L167.67,293.08 L168.64,293.30 L169.61,293.52 L170.58,293.74 L171.55,293.96 L172.52,294.17 L173.49,294.38 L174.46,294.59 L175.43,294.80 L176.40,295.01 L177.37,295.21 L178.35,295.42 L179.32,295.62 L180.29,295.82 L181.26,296.01 L182.23,296.21 L183.20,296.40 L184.17,296.59 L185.14,296.79 L186.11,296.97 L187.08,297.16 L188.05,297.35 L189.02,297.53 L189.99,297.71 L190.96,297.89 L191.93,298.07 L192.90,298.25 L193.87,298.43 L194.84,298.60 L195.82,298.77 L196.79,298.94 L197.76,299.11 L198.73,299.28 L199.70,299.45 L200.67,299.61 L201.64,299.78 L202.61,299.94 L203.58,300.10 L204.55,300.26 L205.52,300.42 L206.49,300.57 L207.46,300.73 L208.43,300.88 L209.40,301.03 L210.37,301.18 L211.34,301.32 L212.32,301.46 L213.29,301.60 L214.26,301.74 L215.23,301.88 L216.20,302.01 L217.17,302.14 L218.14,302.26 L219.11,302.39 L220.08,302.51 L221.05,302.63 L222.02,302.74 L222.99,302.86 L223.96,302.96 L224.93,303.07 L225.90,303.18 L226.87,303.28 L227.84,303.38 L228.81,303.48 L229.79,303.57 L230.76,303.67 L231.73,303.76 L232.70,303.85 L233.67,303.94 L234.64,304.03 L235.61,304.12 L236.58,304.20 L237.55,304.29 L238.52,304.37 L239.49,304.46 L240.46,304.54 L241.43,304.62 L242.40,304.70 L243.37,304.79 L244.34,304.87 L245.31,304.95 L246.28,305.03 L247.26,305.11 L248.23,305.19 L249.20,305.27 L250.17,305.35 L251.14,305.43 L252.11,305.51 L253.08,305.58 L254.05,305.66 L255.02,305.74 L255.99,305.82 L256.96,305.89 L257.93,305.97 L258.90,306.05 L259.87,306.12 L260.84,306.20 L261.81,306.28 L262.78,306.35 L263.76,306.43 L264.73,306.50 L265.70,306.58 L266.67,306.65 L267.64,306.73 L268.61,306.80 L269.58,306.87 L270.55,306.95 L271.52,307.02 L272.49,307.09 L273.46,307.16 L274.43,307.23 L275.40,307.31 L276.37,307.38 L277.34,307.45 L278.31,307.52 L279.28,307.59 L280.25,307.65 L281.23,307.72 L282.20,307.79 L283.17,307.86 L284.14,307.92 L285.11,307.99 L286.08,308.05 L287.05,308.12 L288.02,308.18 L288.99,308.24 L289.96,308.30 L290.93,308.36 L291.90,308.42 L292.87,308.48 L293.84,308.53 L294.81,308.59 L295.78,308.64 L296.75,308.70 L297.73,308.75 L298.70,308.80 L299.67,308.85 L300.64,308.90 L301.61,308.95 L302.58,308.99 L303.55,309.04 L304.52,309.08 L305.49,309.13 L306.46,309.17 L307.43,309.21 L308.40,309.26 L309.37,309.30 L310.34,309.34 L311.31,309.38 L312.28,309.42 L313.25,309.46 L314.22,309.50 L315.20,309.54 L316.17,309.57 L317.14,309.61 L318.11,309.65 L319.08,309.69 L320.05,309.72 L321.02,309.76 L321.99,309.80 L322.96,309.83 L323.93,309.87 L324.90,309.91 L325.87,309.94 L326.84,309.98 L327.81,310.02 L328.78,310.05 L329.75,310.09 L330.72,310.13 L331.69,310.16 L332.67,310.20 L333.64,310.24 L334.61,310.27 L335.58,310.31 L336.55,310.35 L337.52,310.38 L338.49,310.42 L339.46,310.46 L340.43,310.50 L341.40,310.53 L342.37,310.57 L343.34,310.61 L344.31,310.64 L345.28,310.68 L346.25,310.72 L347.22,310.76 L348.19,310.79 L349.17,310.83 L350.14,310.87 L351.11,310.90 L352.08,310.94 L353.05,310.98 L354.02,311.01 L354.99,311.05 L355.96,311.08 L356.93,311.12 L357.90,311.16 L358.87,311.19 L359.84,311.23 L360.81,311.26 L361.78,311.29 L362.75,311.33 L363.72,311.36 L364.69,311.39 L365.66,311.43 L366.64,311.46 L367.61,311.49 L368.58,311.52 L369.55,311.55 L370.52,311.58 L371.49,311.61 L372.46,311.64 L373.43,311.67 L374.40,311.70" fill="none" stroke="#009a00" stroke-width="1.4" stroke-dasharray="3.1 2.3" clip-path="url(#c1)"/>
<path d="M84.20,291.92 L85.17,291.55 L86.14,290.96 L87.11,290.16 L88.08,289.14 L89.05,287.89 L90.02,286.42 L90.99,284.72 L91.96,282.79 L92.94,280.61 L93.91,278.19 L94.88,275.53 L95.85,272.62 L96.82,269.45 L97.79,266.03 L98.76,262.34 L99.73,258.39 L100.70,254.17 L101.67,249.68 L102.64,244.97 L103.61,240.09 L104.58,235.13 L105.55,230.17 L106.52,225.24 L107.49,220.38 L108.46,215.58 L109.43,210.86 L110.41,206.22 L111.38,201.66 L112.35,197.18 L113.32,192.78 L114.29,188.46 L115.26,184.29 L116.23,180.34 L117.20,176.67 L118.17,173.29 L119.14,170.19 L120.11,167.36 L121.08,164.81 L122.05,162.54 L123.02,160.53 L123.99,158.78 L124.96,157.29 L125.93,156.05 L126.91,155.04 L127.88,154.25 L128.85,153.68 L129.82,153.31 L130.79,153.14 L131.76,153.15 L132.73,153.34 L133.70,153.69 L134.67,154.19 L135.64,154.84 L136.61,155.62 L137.58,156.53 L138.55,157.55 L139.52,158.68 L140.49,159.90 L141.46,161.20 L142.43,162.58 L143.40,164.02 L144.38,165.51 L145.35,167.05 L146.32,168.62 L147.29,170.22 L148.26,171.83 L149.23,173.44 L150.20,175.05 L151.17,176.64 L152.14,178.20 L153.11,179.74 L154.08,181.25 L155.05,182.75 L156.02,184.22 L156.99,185.68 L157.96,187.12 L158.93,188.56 L159.90,189.99 L160.87,191.41 L161.85,192.83 L162.82,194.25 L163.79,195.68 L164.76,197.11 L165.73,198.55 L166.70,200.00 L167.67,201.47 L168.64,202.95 L169.61,204.44 L170.58,205.93 L171.55,207.43 L172.52,208.92 L173.49,210.41 L174.46,211.89 L175.43,213.37 L176.40,214.82 L177.37,216.26 L178.35,217.68 L179.32,219.07 L180.29,220.44 L181.26,221.78 L182.23,223.09 L183.20,224.38 L184.17,225.64 L185.14,226.88 L186.11,228.09 L187.08,229.28 L188.05,230.45 L189.02,231.59 L189.99,232.71 L190.96,233.81 L191.93,234.88 L192.90,235.94 L193.87,236.98 L194.84,237.99 L195.82,238.99 L196.79,239.97 L197.76,240.93 L198.73,241.87 L199.70,242.80 L200.67,243.71 L201.64,244.61 L202.61,245.48 L203.58,246.35 L204.55,247.20 L205.52,248.03 L206.49,248.86 L207.46,249.67 L208.43,250.46 L209.40,251.25 L210.37,252.02 L211.34,252.79 L212.32,253.54 L213.29,254.29 L214.26,255.02 L215.23,255.75 L216.20,256.47 L217.17,257.18 L218.14,257.88 L219.11,258.58 L220.08,259.27 L221.05,259.95 L222.02,260.63 L222.99,261.29 L223.96,261.95 L224.93,262.60 L225.90,263.25 L226.87,263.89 L227.84,264.52 L228.81,265.14 L229.79,265.76 L230.76,266.37 L231.73,266.98 L232.70,267.57 L233.67,268.16 L234.64,268.75 L235.61,269.32 L236.58,269.89 L237.55,270.46 L238.52,271.01 L239.49,271.56 L240.46,272.11 L241.43,272.65 L242.40,273.18 L243.37,273.70 L244.34,274.22 L245.31,274.74 L246.28,275.24 L247.26,275.74 L248.23,276.24 L249.20,276.73 L250.17,277.21 L251.14,277.69 L252.11,278.16 L253.08,278.62 L254.05,279.08 L255.02,279.54 L255.99,279.99 L256.96,280.43 L257.93,280.87 L258.90,281.30 L259.87,281.73 L260.84,282.15 L261.81,282.57 L262.78,282.98 L263.76,283.38 L264.73,283.78 L265.70,284.18 L266.67,284.57 L267.64,284.96 L268.61,285.34 L269.58,285.71 L270.55,286.08 L271.52,286.45 L272.49,286.81 L273.46,287.17 L274.43,287.52 L275.40,287.87 L276.37,288.21 L277.34,288.55 L278.31,288.88 L279.28,289.21 L280.25,289.54 L281.23,289.86 L282.20,290.17 L283.17,290.49 L284.14,290.80 L285.11,291.10 L286.08,291.40 L287.05,291.70 L288.02,291.99 L288.99,292.28 L289.96,292.56 L290.93,292.84 L291.90,293.12 L292.87,293.39 L293.84,293.66 L294.81,293.93 L295.78,294.19 L296.75,294.45 L297.73,294.71 L298.70,294.96 L299.67,295.21 L300.64,295.45 L301.61,295.69 L302.58,295.93 L303.55,296.17 L304.52,296.40 L305.49,296.63 L306.46,296.86 L307.43,297.08 L308.40,297.30 L309.37,297.52 L310.34,297.74 L311.31,297.95 L312.28,298.16 L313.25,298.37 L314.22,298.57 L315.20,298.77 L316.17,298.97 L317.14,299.17 L318.11,299.37 L319.08,299.56 L320.05,299.75 L321.02,299.94 L321.99,300.12 L322.96,300.31 L323.93,300.49 L324.90,300.67 L325.87,300.84 L326.84,301.02 L327.81,301.19 L328.78,301.36 L329.75,301.53 L330.72,301.70 L331.69,301.87 L332.67,302.03 L333.64,302.20 L334.61,302.36 L335.58,302.52 L336.55,302.68 L337.52,302.83 L338.49,302.99 L339.46,303.15 L340.43,303.30 L341.40,303.45 L342.37,303.60 L343.34,303.75 L344.31,303.90 L345.28,304.05 L346.25,304.20 L347.22,304.34 L348.19,304.49 L349.17,304.63 L350.14,304.78 L351.11,304.92 L352.08,305.06 L353.05,305.20 L354.02,305.34 L354.99,305.49 L355.96,305.63 L356.93,305.77 L357.90,305.91 L358.87,306.04 L359.84,306.18 L360.81,306.32 L361.78,306.46 L362.75,306.60 L363.72,306.74 L364.69,306.88 L365.66,307.01 L366.64,307.15 L367.61,307.29 L368.58,307.43 L369.55,307.57 L370.52,307.71 L371.49,307.85 L372.46,307.99 L373.43,308.13 L374.40,308.27" fill="none" stroke="#000" stroke-width="1.35" stroke-dasharray="3.1 2.3" clip-path="url(#c1)"/>
<line x1="84.2" y1="470.38" x2="374.4" y2="470.38" stroke="#000" stroke-width="1.0"/>
<path d="M84.20,470.60 L85.17,470.58 L86.14,470.52 L87.11,470.42 L88.08,470.29 L89.05,470.13 L90.02,469.93 L90.99,469.70 L91.96,469.44 L92.94,469.15 L93.91,468.83 L94.88,468.47 L95.85,468.09 L96.82,467.68 L97.79,467.24 L98.76,466.78 L99.73,466.28 L100.70,465.77 L101.67,465.23 L102.64,464.67 L103.61,464.09 L104.58,463.50 L105.55,462.89 L106.52,462.27 L107.49,461.65 L108.46,461.02 L109.43,460.40 L110.41,459.80 L111.38,459.21 L112.35,458.66 L113.32,458.13 L114.29,457.65 L115.26,457.20 L116.23,456.79 L117.20,456.41 L118.17,456.07 L119.14,455.76 L120.11,455.48 L121.08,455.23 L122.05,455.01 L123.02,454.82 L123.99,454.66 L124.96,454.53 L125.93,454.43 L126.91,454.36 L127.88,454.32 L128.85,454.30 L129.82,454.31 L130.79,454.34 L131.76,454.40 L132.73,454.47 L133.70,454.56 L134.67,454.66 L135.64,454.78 L136.61,454.90 L137.58,455.03 L138.55,455.18 L139.52,455.32 L140.49,455.48 L141.46,455.64 L142.43,455.81 L143.40,455.98 L144.38,456.15 L145.35,456.33 L146.32,456.51 L147.29,456.70 L148.26,456.90 L149.23,457.10 L150.20,457.31 L151.17,457.52 L152.14,457.74 L153.11,457.96 L154.08,458.19 L155.05,458.42 L156.02,458.65 L156.99,458.88 L157.96,459.11 L158.93,459.35 L159.90,459.58 L160.87,459.80 L161.85,460.03 L162.82,460.25 L163.79,460.46 L164.76,460.68 L165.73,460.88 L166.70,461.08 L167.67,461.28 L168.64,461.48 L169.61,461.67 L170.58,461.85 L171.55,462.04 L172.52,462.22 L173.49,462.40 L174.46,462.57 L175.43,462.74 L176.40,462.91 L177.37,463.08 L178.35,463.24 L179.32,463.40 L180.29,463.56 L181.26,463.72 L182.23,463.87 L183.20,464.02 L184.17,464.17 L185.14,464.31 L186.11,464.46 L187.08,464.60 L188.05,464.74 L189.02,464.87 L189.99,465.00 L190.96,465.14 L191.93,465.26 L192.90,465.39 L193.87,465.51 L194.84,465.64 L195.82,465.75 L196.79,465.87 L197.76,465.99 L198.73,466.10 L199.70,466.21 L200.67,466.32 L201.64,466.43 L202.61,466.53 L203.58,466.63 L204.55,466.73 L205.52,466.83 L206.49,466.92 L207.46,467.02 L208.43,467.11 L209.40,467.19 L210.37,467.28 L211.34,467.36 L212.32,467.44 L213.29,467.51 L214.26,467.59 L215.23,467.66 L216.20,467.72 L217.17,467.79 L218.14,467.85 L219.11,467.91 L220.08,467.97 L221.05,468.03 L222.02,468.09 L222.99,468.14 L223.96,468.20 L224.93,468.26 L225.90,468.31 L226.87,468.37 L227.84,468.43 L228.81,468.48 L229.79,468.54 L230.76,468.60 L231.73,468.65 L232.70,468.71 L233.67,468.76 L234.64,468.82 L235.61,468.87 L236.58,468.92 L237.55,468.96 L238.52,469.01 L239.49,469.05 L240.46,469.10 L241.43,469.14 L242.40,469.17 L243.37,469.21 L244.34,469.24 L245.31,469.27 L246.28,469.31 L247.26,469.33 L248.23,469.36 L249.20,469.39 L250.17,469.41 L251.14,469.44 L252.11,469.46 L253.08,469.48 L254.05,469.50 L255.02,469.52 L255.99,469.54 L256.96,469.55 L257.93,469.57 L258.90,469.59 L259.87,469.60 L260.84,469.62 L261.81,469.63 L262.78,469.65 L263.76,469.66 L264.73,469.67 L265.70,469.69 L266.67,469.70 L267.64,469.71 L268.61,469.72 L269.58,469.73 L270.55,469.74 L271.52,469.75 L272.49,469.76 L273.46,469.77 L274.43,469.78 L275.40,469.79 L276.37,469.80 L277.34,469.81 L278.31,469.82 L279.28,469.82 L280.25,469.83 L281.23,469.84 L282.20,469.85 L283.17,469.85 L284.14,469.86 L285.11,469.87 L286.08,469.87 L287.05,469.88 L288.02,469.89 L288.99,469.89 L289.96,469.90 L290.93,469.91 L291.90,469.91 L292.87,469.92 L293.84,469.92 L294.81,469.93 L295.78,469.94 L296.75,469.94 L297.73,469.95 L298.70,469.95 L299.67,469.96 L300.64,469.96 L301.61,469.97 L302.58,469.97 L303.55,469.98 L304.52,469.98 L305.49,469.99 L306.46,469.99 L307.43,470.00 L308.40,470.00 L309.37,470.01 L310.34,470.01 L311.31,470.01 L312.28,470.02 L313.25,470.02 L314.22,470.03 L315.20,470.03 L316.17,470.04 L317.14,470.04 L318.11,470.04 L319.08,470.05 L320.05,470.05 L321.02,470.05 L321.99,470.06 L322.96,470.06 L323.93,470.06 L324.90,470.07 L325.87,470.07 L326.84,470.07 L327.81,470.08 L328.78,470.08 L329.75,470.08 L330.72,470.08 L331.69,470.09 L332.67,470.09 L333.64,470.09 L334.61,470.09 L335.58,470.10 L336.55,470.10 L337.52,470.10 L338.49,470.10 L339.46,470.10 L340.43,470.10 L341.40,470.11 L342.37,470.11 L343.34,470.11 L344.31,470.11 L345.28,470.11 L346.25,470.11 L347.22,470.11 L348.19,470.11 L349.17,470.11 L350.14,470.12 L351.11,470.12 L352.08,470.12 L353.05,470.12 L354.02,470.12 L354.99,470.12 L355.96,470.12 L356.93,470.12 L357.90,470.12 L358.87,470.12 L359.84,470.12 L360.81,470.12 L361.78,470.12 L362.75,470.12 L363.72,470.11 L364.69,470.11 L365.66,470.11 L366.64,470.11 L367.61,470.11 L368.58,470.11 L369.55,470.11 L370.52,470.11 L371.49,470.11 L372.46,470.10 L373.43,470.10 L374.40,470.10" fill="none" stroke="#000" stroke-width="1.1" clip-path="url(#c2)"/>
<path d="M84.20,470.53 L85.17,470.50 L86.14,469.92 L87.11,468.82 L88.08,467.26 L89.05,465.27 L90.02,462.89 L90.99,460.18 L91.96,457.16 L92.94,453.90 L93.91,450.42 L94.88,446.77 L95.85,443.00 L96.82,439.14 L97.79,435.24 L98.76,431.35 L99.73,427.50 L100.70,423.74 L101.67,420.06 L102.64,416.41 L103.61,412.73 L104.58,408.98 L105.55,405.09 L106.52,401.04 L107.49,396.83 L108.46,392.51 L109.43,388.14 L110.41,383.78 L111.38,379.53 L112.35,375.42 L113.32,371.46 L114.29,367.67 L115.26,364.05 L116.23,360.62 L117.20,357.39 L118.17,354.36 L119.14,351.56 L120.11,348.99 L121.08,346.66 L122.05,344.59 L123.02,342.78 L123.99,341.26 L124.96,340.01 L125.93,339.05 L126.91,338.35 L127.88,337.89 L128.85,337.66 L129.82,337.65 L130.79,337.85 L131.76,338.23 L132.73,338.78 L133.70,339.50 L134.67,340.36 L135.64,341.35 L136.61,342.45 L137.58,343.66 L138.55,344.95 L139.52,346.31 L140.49,347.73 L141.46,349.19 L142.43,350.68 L143.40,352.19 L144.38,353.71 L145.35,355.24 L146.32,356.78 L147.29,358.33 L148.26,359.89 L149.23,361.45 L150.20,363.02 L151.17,364.59 L152.14,366.17 L153.11,367.75 L154.08,369.33 L155.05,370.91 L156.02,372.49 L156.99,374.06 L157.96,375.63 L158.93,377.20 L159.90,378.76 L160.87,380.31 L161.85,381.86 L162.82,383.39 L163.79,384.92 L164.76,386.43 L165.73,387.92 L166.70,389.41 L167.67,390.87 L168.64,392.33 L169.61,393.76 L170.58,395.17 L171.55,396.56 L172.52,397.94 L173.49,399.28 L174.46,400.61 L175.43,401.91 L176.40,403.19 L177.37,404.45 L178.35,405.69 L179.32,406.91 L180.29,408.10 L181.26,409.27 L182.23,410.43 L183.20,411.56 L184.17,412.67 L185.14,413.76 L186.11,414.83 L187.08,415.88 L188.05,416.91 L189.02,417.92 L189.99,418.92 L190.96,419.89 L191.93,420.85 L192.90,421.79 L193.87,422.71 L194.84,423.61 L195.82,424.49 L196.79,425.36 L197.76,426.21 L198.73,427.04 L199.70,427.86 L200.67,428.66 L201.64,429.44 L202.61,430.21 L203.58,430.96 L204.55,431.70 L205.52,432.42 L206.49,433.13 L207.46,433.82 L208.43,434.50 L209.40,435.16 L210.37,435.81 L211.34,436.45 L212.32,437.07 L213.29,437.68 L214.26,438.27 L215.23,438.86 L216.20,439.43 L217.17,439.98 L218.14,440.53 L219.11,441.06 L220.08,441.59 L221.05,442.10 L222.02,442.60 L222.99,443.09 L223.96,443.56 L224.93,444.03 L225.90,444.49 L226.87,444.93 L227.84,445.37 L228.81,445.79 L229.79,446.21 L230.76,446.61 L231.73,447.01 L232.70,447.39 L233.67,447.77 L234.64,448.14 L235.61,448.50 L236.58,448.85 L237.55,449.19 L238.52,449.53 L239.49,449.85 L240.46,450.17 L241.43,450.48 L242.40,450.78 L243.37,451.07 L244.34,451.36 L245.31,451.64 L246.28,451.92 L247.26,452.18 L248.23,452.44 L249.20,452.69 L250.17,452.94 L251.14,453.18 L252.11,453.42 L253.08,453.65 L254.05,453.87 L255.02,454.09 L255.99,454.30 L256.96,454.51 L257.93,454.71 L258.90,454.91 L259.87,455.11 L260.84,455.30 L261.81,455.48 L262.78,455.66 L263.76,455.84 L264.73,456.02 L265.70,456.19 L266.67,456.36 L267.64,456.52 L268.61,456.68 L269.58,456.84 L270.55,457.00 L271.52,457.15 L272.49,457.30 L273.46,457.45 L274.43,457.60 L275.40,457.75 L276.37,457.89 L277.34,458.03 L278.31,458.18 L279.28,458.32 L280.25,458.46 L281.23,458.60 L282.20,458.73 L283.17,458.87 L284.14,459.01 L285.11,459.15 L286.08,459.28 L287.05,459.42 L288.02,459.55 L288.99,459.68 L289.96,459.82 L290.93,459.95 L291.90,460.08 L292.87,460.21 L293.84,460.34 L294.81,460.46 L295.78,460.59 L296.75,460.72 L297.73,460.84 L298.70,460.97 L299.67,461.09 L300.64,461.21 L301.61,461.33 L302.58,461.45 L303.55,461.57 L304.52,461.69 L305.49,461.81 L306.46,461.92 L307.43,462.04 L308.40,462.15 L309.37,462.26 L310.34,462.38 L311.31,462.49 L312.28,462.60 L313.25,462.70 L314.22,462.81 L315.20,462.92 L316.17,463.02 L317.14,463.13 L318.11,463.23 L319.08,463.33 L320.05,463.43 L321.02,463.53 L321.99,463.62 L322.96,463.72 L323.93,463.82 L324.90,463.91 L325.87,464.00 L326.84,464.09 L327.81,464.18 L328.78,464.27 L329.75,464.36 L330.72,464.44 L331.69,464.53 L332.67,464.61 L333.64,464.69 L334.61,464.77 L335.58,464.85 L336.55,464.93 L337.52,465.00 L338.49,465.08 L339.46,465.15 L340.43,465.22 L341.40,465.29 L342.37,465.36 L343.34,465.43 L344.31,465.49 L345.28,465.55 L346.25,465.62 L347.22,465.68 L348.19,465.74 L349.17,465.79 L350.14,465.85 L351.11,465.90 L352.08,465.95 L353.05,466.01 L354.02,466.05 L354.99,466.10 L355.96,466.15 L356.93,466.19 L357.90,466.23 L358.87,466.27 L359.84,466.31 L360.81,466.35 L361.78,466.39 L362.75,466.42 L363.72,466.45 L364.69,466.48 L365.66,466.51 L366.64,466.54 L367.61,466.56 L368.58,466.58 L369.55,466.60 L370.52,466.62 L371.49,466.64 L372.46,466.65 L373.43,466.67 L374.40,466.68" fill="none" stroke="#000" stroke-width="1.35" stroke-dasharray="3.1 2.3" clip-path="url(#c2)"/>
<path d="M84.20,471.08 L85.66,471.28 L87.12,471.45 L88.57,471.58 L90.03,471.69 L91.49,471.78 L92.95,471.85 L94.41,471.91 L95.87,471.96 L97.32,472.00 L98.78,472.03 L100.24,472.06 L101.70,472.08 L103.16,472.10 L104.62,472.11 L106.07,472.13 L107.53,472.14 L108.99,472.14 L110.45,472.15 L111.91,472.15 L113.37,472.16 L114.82,472.16 L116.28,472.16 L117.74,472.16 L119.20,472.17 L120.66,472.17 L122.12,472.17 L123.57,472.17 L125.03,472.17 L126.49,472.16 L127.95,472.16 L129.41,472.16 L130.87,472.16 L132.32,472.16 L133.78,472.15 L135.24,472.15 L136.70,472.15 L138.16,472.14 L139.62,472.14 L141.07,472.14 L142.53,472.13 L143.99,472.13 L145.45,472.12 L146.91,472.12 L148.36,472.11 L149.82,472.11 L151.28,472.10 L152.74,472.09 L154.20,472.08 L155.66,472.08 L157.11,472.07 L158.57,472.06 L160.03,472.05 L161.49,472.04 L162.95,472.03 L164.41,472.02 L165.86,472.01 L167.32,472.00 L168.78,471.99 L170.24,471.98 L171.70,471.97 L173.16,471.96 L174.61,471.95 L176.07,471.94 L177.53,471.93 L178.99,471.91 L180.45,471.90 L181.91,471.89 L183.36,471.87 L184.82,471.86 L186.28,471.85 L187.74,471.83 L189.20,471.82 L190.66,471.81 L192.11,471.79 L193.57,471.78 L195.03,471.77 L196.49,471.75 L197.95,471.74 L199.41,471.73 L200.86,471.71 L202.32,471.70 L203.78,471.69 L205.24,471.67 L206.70,471.66 L208.15,471.65 L209.61,471.63 L211.07,471.62 L212.53,471.61 L213.99,471.60 L215.45,471.58 L216.90,471.57 L218.36,471.56 L219.82,471.55 L221.28,471.54 L222.74,471.53 L224.20,471.51 L225.65,471.50 L227.11,471.49 L228.57,471.48 L230.03,471.47 L231.49,471.46 L232.95,471.45 L234.40,471.44 L235.86,471.43 L237.32,471.43 L238.78,471.42 L240.24,471.41 L241.70,471.40 L243.15,471.39 L244.61,471.38 L246.07,471.37 L247.53,471.37 L248.99,471.36 L250.45,471.35 L251.90,471.35 L253.36,471.34 L254.82,471.33 L256.28,471.33 L257.74,471.32 L259.19,471.31 L260.65,471.31 L262.11,471.30 L263.57,471.30 L265.03,471.29 L266.49,471.28 L267.94,471.28 L269.40,471.27 L270.86,471.27 L272.32,471.26 L273.78,471.26 L275.24,471.25 L276.69,471.25 L278.15,471.25 L279.61,471.24 L281.07,471.24 L282.53,471.23 L283.99,471.23 L285.44,471.23 L286.90,471.22 L288.36,471.22 L289.82,471.22 L291.28,471.21 L292.74,471.21 L294.19,471.21 L295.65,471.20 L297.11,471.20 L298.57,471.20 L300.03,471.19 L301.49,471.19 L302.94,471.19 L304.40,471.19 L305.86,471.18 L307.32,471.18 L308.78,471.18 L310.24,471.18 L311.69,471.18 L313.15,471.17 L314.61,471.17 L316.07,471.17 L317.53,471.17 L318.98,471.16 L320.44,471.16 L321.90,471.16 L323.36,471.16 L324.82,471.16 L326.28,471.16 L327.73,471.15 L329.19,471.15 L330.65,471.15 L332.11,471.15 L333.57,471.15 L335.03,471.15 L336.48,471.15 L337.94,471.14 L339.40,471.14 L340.86,471.14 L342.32,471.14 L343.78,471.14 L345.23,471.14 L346.69,471.14 L348.15,471.13 L349.61,471.13 L351.07,471.13 L352.53,471.13 L353.98,471.13 L355.44,471.13 L356.90,471.13 L358.36,471.13 L359.82,471.13 L361.28,471.13 L362.73,471.12 L364.19,471.12 L365.65,471.12 L367.11,471.12 L368.57,471.12 L370.03,471.12 L371.48,471.12 L372.94,471.12 L374.40,471.12" fill="none" stroke="#ff0000" stroke-width="1.1" clip-path="url(#c2)"/>
<path d="M84.20,470.98 L85.66,471.08 L87.12,471.16 L88.57,471.23 L90.03,471.28 L91.49,471.33 L92.95,471.37 L94.41,471.40 L95.87,471.42 L97.32,471.44 L98.78,471.46 L100.24,471.47 L101.70,471.48 L103.16,471.49 L104.62,471.50 L106.07,471.50 L107.53,471.51 L108.99,471.51 L110.45,471.52 L111.91,471.52 L113.37,471.52 L114.82,471.52 L116.28,471.52 L117.74,471.52 L119.20,471.52 L120.66,471.52 L122.12,471.52 L123.57,471.52 L125.03,471.52 L126.49,471.52 L127.95,471.52 L129.41,471.52 L130.87,471.52 L132.32,471.52 L133.78,471.52 L135.24,471.52 L136.70,471.51 L138.16,471.51 L139.62,471.51 L141.07,471.51 L142.53,471.51 L143.99,471.50 L145.45,471.50 L146.91,471.50 L148.36,471.50 L149.82,471.49 L151.28,471.49 L152.74,471.49 L154.20,471.48 L155.66,471.48 L157.11,471.48 L158.57,471.47 L160.03,471.47 L161.49,471.46 L162.95,471.46 L164.41,471.45 L165.86,471.45 L167.32,471.44 L168.78,471.44 L170.24,471.43 L171.70,471.43 L173.16,471.42 L174.61,471.42 L176.07,471.41 L177.53,471.40 L178.99,471.40 L180.45,471.39 L181.91,471.38 L183.36,471.38 L184.82,471.37 L186.28,471.36 L187.74,471.36 L189.20,471.35 L190.66,471.34 L192.11,471.34 L193.57,471.33 L195.03,471.32 L196.49,471.32 L197.95,471.31 L199.41,471.30 L200.86,471.30 L202.32,471.29 L203.78,471.28 L205.24,471.28 L206.70,471.27 L208.15,471.26 L209.61,471.26 L211.07,471.25 L212.53,471.24 L213.99,471.24 L215.45,471.23 L216.90,471.23 L218.36,471.22 L219.82,471.21 L221.28,471.21 L222.74,471.20 L224.20,471.20 L225.65,471.19 L227.11,471.19 L228.57,471.18 L230.03,471.18 L231.49,471.17 L232.95,471.17 L234.40,471.16 L235.86,471.16 L237.32,471.15 L238.78,471.15 L240.24,471.14 L241.70,471.14 L243.15,471.14 L244.61,471.13 L246.07,471.13 L247.53,471.12 L248.99,471.12 L250.45,471.12 L251.90,471.11 L253.36,471.11 L254.82,471.11 L256.28,471.10 L257.74,471.10 L259.19,471.10 L260.65,471.09 L262.11,471.09 L263.57,471.09 L265.03,471.09 L266.49,471.08 L267.94,471.08 L269.40,471.08 L270.86,471.08 L272.32,471.07 L273.78,471.07 L275.24,471.07 L276.69,471.07 L278.15,471.06 L279.61,471.06 L281.07,471.06 L282.53,471.06 L283.99,471.06 L285.44,471.05 L286.90,471.05 L288.36,471.05 L289.82,471.05 L291.28,471.05 L292.74,471.05 L294.19,471.04 L295.65,471.04 L297.11,471.04 L298.57,471.04 L300.03,471.04 L301.49,471.04 L302.94,471.04 L304.40,471.03 L305.86,471.03 L307.32,471.03 L308.78,471.03 L310.24,471.03 L311.69,471.03 L313.15,471.03 L314.61,471.03 L316.07,471.02 L317.53,471.02 L318.98,471.02 L320.44,471.02 L321.90,471.02 L323.36,471.02 L324.82,471.02 L326.28,471.02 L327.73,471.02 L329.19,471.02 L330.65,471.02 L332.11,471.02 L333.57,471.01 L335.03,471.01 L336.48,471.01 L337.94,471.01 L339.40,471.01 L340.86,471.01 L342.32,471.01 L343.78,471.01 L345.23,471.01 L346.69,471.01 L348.15,471.01 L349.61,471.01 L351.07,471.01 L352.53,471.01 L353.98,471.01 L355.44,471.01 L356.90,471.00 L358.36,471.00 L359.82,471.00 L361.28,471.00 L362.73,471.00 L364.19,471.00 L365.65,471.00 L367.11,471.00 L368.57,471.00 L370.03,471.00 L371.48,471.00 L372.94,471.00 L374.40,471.00" fill="none" stroke="#ff0000" stroke-width="1.0" stroke-dasharray="3.1 2.3" clip-path="url(#c2)"/>
<text x="84.50" y="520.90" font-family="Liberation Serif, serif" font-size="14" text-anchor="middle" fill="#000"  >0</text>
<text x="132.87" y="520.90" font-family="Liberation Serif, serif" font-size="14" text-anchor="middle" fill="#000"  >1</text>
<text x="181.23" y="520.90" font-family="Liberation Serif, serif" font-size="14" text-anchor="middle" fill="#000"  >2</text>
<text x="229.60" y="520.90" font-family="Liberation Serif, serif" font-size="14" text-anchor="middle" fill="#000"  >3</text>
<text x="277.97" y="520.90" font-family="Liberation Serif, serif" font-size="14" text-anchor="middle" fill="#000"  >4</text>
<text x="326.33" y="520.90" font-family="Liberation Serif, serif" font-size="14" text-anchor="middle" fill="#000"  >5</text>
<text x="374.70" y="520.90" font-family="Liberation Serif, serif" font-size="14" text-anchor="middle" fill="#000"  >6</text>
<text x="80.80" y="327.90" font-family="Liberation Serif, serif" font-size="14" text-anchor="end" fill="#000"  >0</text>
<text x="80.80" y="286.68" font-family="Liberation Serif, serif" font-size="14" text-anchor="end" fill="#000"  >5</text>
<text x="80.80" y="245.45" font-family="Liberation Serif, serif" font-size="14" text-anchor="end" fill="#000"  >10</text>
<text x="80.80" y="204.23" font-family="Liberation Serif, serif" font-size="14" text-anchor="end" fill="#000"  >15</text>
<text x="80.80" y="163.00" font-family="Liberation Serif, serif" font-size="14" text-anchor="end" fill="#000"  >20</text>
<text x="80.80" y="499.49" font-family="Liberation Serif, serif" font-size="14" text-anchor="end" fill="#000"  >-0.5</text>
<text x="80.80" y="474.98" font-family="Liberation Serif, serif" font-size="14" text-anchor="end" fill="#000"  >0.0</text>
<text x="80.80" y="450.47" font-family="Liberation Serif, serif" font-size="14" text-anchor="end" fill="#000"  >0.5</text>
<text x="80.80" y="425.95" font-family="Liberation Serif, serif" font-size="14" text-anchor="end" fill="#000"  >1.0</text>
<text x="80.80" y="401.44" font-family="Liberation Serif, serif" font-size="14" text-anchor="end" fill="#000"  >1.5</text>
<text x="80.80" y="376.93" font-family="Liberation Serif, serif" font-size="14" text-anchor="end" fill="#000"  >2.0</text>
<text x="80.80" y="352.41" font-family="Liberation Serif, serif" font-size="14" text-anchor="end" fill="#000"  >2.5</text>
<text x="206.8" y="537.1" font-family="Liberation Serif, serif" font-size="17" fill="#000"><tspan font-style="italic">r</tspan> [fm]</text>
<g transform="translate(55.0,233.0) rotate(-90)" font-family="Liberation Serif, serif" fill="#000"><path d="M-22.05,2.92 C-21.74,3.98 -20.21,3.89 -19.70,2.12 L-16.11,-8.84 C-15.50,-10.96 -14.38,-12.37 -12.84,-11.57" fill="none" stroke="#000" stroke-width="1.15" stroke-linecap="round"/><path d="M-19.18,-7.42 L-13.46,-7.42" fill="none" stroke="#000" stroke-width="0.74"/><circle cx="-22.05" cy="2.65" r="0.78" fill="#000"/><circle cx="-12.64" cy="-11.22" r="0.78" fill="#000"/><text y="4.4" font-size="12.3"><tspan x="-16.4" font-size="13.6">C</tspan><tspan x="-6.6" font-style="italic">ts</tspan></text><text x="6.0" y="0" font-size="17.5">(<tspan font-style="italic">r</tspan>)</text></g>
<g transform="translate(55.0,414.4) rotate(-90)" font-family="Liberation Serif, serif" fill="#000"><path d="M-19.65,2.92 C-19.34,3.98 -17.81,3.89 -17.30,2.12 L-13.71,-8.84 C-13.10,-10.96 -11.98,-12.37 -10.44,-11.57" fill="none" stroke="#000" stroke-width="1.15" stroke-linecap="round"/><path d="M-16.78,-7.42 L-11.06,-7.42" fill="none" stroke="#000" stroke-width="0.74"/><circle cx="-19.65" cy="2.65" r="0.78" fill="#000"/><circle cx="-10.24" cy="-11.22" r="0.78" fill="#000"/><text y="4.4" font-size="12.3"><tspan x="-13.4" font-size="13.6">T</tspan><tspan x="-4.6" font-style="italic">t</tspan></text><text x="0.7" y="0" font-size="17.5">(<tspan font-style="italic">r</tspan>)</text></g>
<rect x="181.6" y="153.3" width="72.90" height="32.90" fill="#fff" stroke="#444" stroke-width="1.15"/>
<line x1="185.3" y1="162.5" x2="208.6" y2="162.5" stroke="#ff0000" stroke-width="1.1"/>
<line x1="185.3" y1="177.5" x2="208.6" y2="177.5" stroke="#ff0000" stroke-width="1.0" stroke-dasharray="3.1 2.3"/>
<text x="213.70" y="166.40" font-family="Liberation Serif, serif" font-size="13.0" text-anchor="start" fill="#000"  >After</text>
<text x="213.70" y="180.80" font-family="Liberation Serif, serif" font-size="13.0" text-anchor="start" fill="#000"  >Before</text>
<rect x="258.3" y="153.3" width="102.30" height="62.70" fill="#fff" stroke="#444" stroke-width="1.15"/>
<line x1="262.4" y1="162.90" x2="285.2" y2="162.90" stroke="#3a3a3a" stroke-width="1.2"/>
<text x="290.30" y="166.60" font-family="Liberation Serif, serif" font-size="13.0" text-anchor="start" fill="#000"  >Triplet-even</text>
<line x1="262.4" y1="177.55" x2="285.2" y2="177.55" stroke="#ff0000" stroke-width="1.0"/>
<text x="290.30" y="181.25" font-family="Liberation Serif, serif" font-size="13.0" text-anchor="start" fill="#000"  >Triplet-odd</text>
<line x1="262.4" y1="192.20" x2="285.2" y2="192.20" stroke="#009a00" stroke-width="1.0"/>
<text x="290.30" y="195.90" font-family="Liberation Serif, serif" font-size="13.0" text-anchor="start" fill="#000"  >Singlet-even</text>
<line x1="262.4" y1="206.85" x2="285.2" y2="206.85" stroke="#4a4aff" stroke-width="1.5"/>
<text x="290.30" y="210.55" font-family="Liberation Serif, serif" font-size="13.0" text-anchor="start" fill="#000"  >Singlet-odd</text>
<rect x="288.5" y="334.6" width="72.80" height="33.10" fill="#fff" stroke="#444" stroke-width="1.15"/>
<line x1="292.7" y1="344.2" x2="315.4" y2="344.2" stroke="#ff0000" stroke-width="1.1"/>
<line x1="292.7" y1="358.9" x2="315.4" y2="358.9" stroke="#ff0000" stroke-width="1.3" stroke-dasharray="3.1 2.3"/>
<text x="321.20" y="348.20" font-family="Liberation Serif, serif" font-size="13.0" text-anchor="start" fill="#000"  >After</text>
<text x="321.20" y="362.70" font-family="Liberation Serif, serif" font-size="13.0" text-anchor="start" fill="#000"  >Before</text>
<text font-family="Liberation Serif, serif" font-size="14.0" fill="#000"><tspan x="276.70" y="234.80" font-style="italic">n</tspan><tspan font-size="10" dy="2.2">p</tspan><tspan x="290.90" y="234.80">/</tspan><tspan font-style="italic">n</tspan><tspan font-size="10" dy="2.2">B</tspan><tspan x="312.60" y="234.80">=</tspan><tspan x="324.70" y="234.80" letter-spacing="-0.7">0.5</tspan><tspan x="260.90" y="252.60" font-style="italic">n</tspan><tspan font-size="10" dy="2.2">B</tspan><tspan x="277.60" y="252.60">=</tspan><tspan x="289.50" y="252.60" letter-spacing="0.1">0.0001</tspan><tspan x="332.20" y="252.60">fm</tspan><tspan x="351.60" y="245.10" font-size="10.2">−3</tspan></text>
<text font-family="Liberation Serif, serif" font-size="14.0" fill="#000"><tspan x="282.40" y="387.50" font-style="italic">n</tspan><tspan font-size="10" dy="2.2">p</tspan><tspan x="296.60" y="387.50">/</tspan><tspan font-style="italic">n</tspan><tspan font-size="10" dy="2.2">B</tspan><tspan x="318.30" y="387.50">=</tspan><tspan x="330.40" y="387.50" letter-spacing="-0.7">0.5</tspan><tspan x="267.30" y="405.30" font-style="italic">n</tspan><tspan font-size="10" dy="2.2">B</tspan><tspan x="284.00" y="405.30">=</tspan><tspan x="295.90" y="405.30" letter-spacing="0.1">0.0001</tspan><tspan x="339.00" y="405.30">fm</tspan><tspan x="358.60" y="397.50" font-size="10.2">−3</tspan></text>
<line x1="194.30" y1="386.10" x2="176.68" y2="394.18" stroke="#222" stroke-width="0.7"/>
<polygon points="172.50,396.10 176.06,392.82 177.31,395.55" fill="#000"/>
<line x1="194.30" y1="386.10" x2="150.75" y2="451.37" stroke="#222" stroke-width="0.7"/>
<polygon points="148.20,455.20 149.51,450.54 152.00,452.21" fill="#000"/>
<line x1="155.50" y1="485.80" x2="141.96" y2="476.25" stroke="#222" stroke-width="0.7"/>
<polygon points="138.20,473.60 142.82,475.03 141.09,477.48" fill="#000"/>
<text x="197.50" y="389.50" font-family="Liberation Serif, serif" font-size="13.0" text-anchor="start" fill="#000"  >Triplet-even</text>
<text x="158.60" y="491.30" font-family="Liberation Serif, serif" font-size="13.0" text-anchor="start" fill="#000"  >Triplet-odd</text>
</svg>
</body></html>
